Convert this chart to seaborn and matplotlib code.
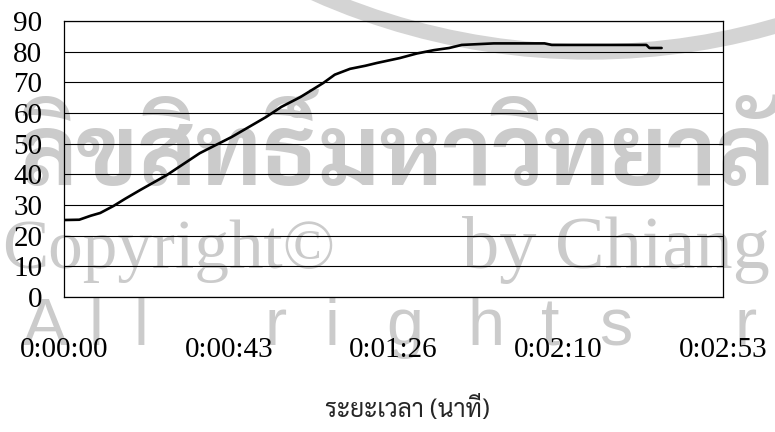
import matplotlib
matplotlib.use("Agg")
import matplotlib.pyplot as plt
import seaborn as sns
import pandas as pd
from matplotlib.patches import Arc

# temperature trace: elapsed seconds and reading
time_s = [0, 4, 7, 9.5, 13, 16, 20, 27, 35.6, 44, 53, 57, 62, 68, 71, 75,
          79, 82, 88, 92.5, 97, 101, 104.3, 112.7, 126, 127.9, 152.7, 153.5, 156.7]
temp = [25.1, 25.2, 26.5, 27.4, 29.7, 32.0, 34.9, 39.8, 46.9, 52.2, 58.7, 62.0,
        65.2, 69.8, 72.5, 74.4, 75.4, 76.3, 77.9, 79.4, 80.5, 81.2, 82.2, 82.7,
        82.7, 82.2, 82.2, 81.2, 81.2]

x_tick_s = [0, 43.2, 86.4, 129.6, 172.8]
x_tick_labels = ["0:00:00", "0:00:43", "0:01:26", "0:02:10", "0:02:53"]
y_ticks = [0, 10, 20, 30, 40, 50, 60, 70, 80, 90]
x_title = "ระยะเวลา (นาที)"

# background notice
wm_thai = "ลิขสิทธิ์มหาวิทยาลัยเชียงใหม่"
wm_copy = "Copyright©"
wm_by = "by Chiang Mai University"
wm_rights = "All rights reserved"

sns.set_style("white")
plt.rcParams["font.family"] = ["Liberation Serif", "DejaVu Serif"]

W, H = 775, 432
fig = plt.figure(figsize=(W / 100, H / 100), dpi=100)
fig.patch.set_facecolor("white")
renderer = fig.canvas.get_renderer()

# full-figure layer in pixel units for the notice
bg = fig.add_axes([0, 0, 1, 1], zorder=0)
bg.set_xlim(0, W)
bg.set_ylim(H, 0)
bg.axis("off")

GREY = "#cbcbcb"


def fitted_text(x, y, s, width_px, fit_part=None, **kw):
    """Place text whose (leading part) spans width_px pixels."""
    probe = bg.text(x, y, fit_part or s, fontsize=50, **kw)
    w = probe.get_window_extent(renderer).width
    probe.remove()
    return bg.text(x, y, s, fontsize=50 * width_px / w, **kw)


fitted_text(18, 185, wm_thai, 757, fit_part="ลิขสิทธิ์มหาวิทยาล",
            family=["Sarabun", "Noto Sans Thai Looped", "Noto Sans Thai"],
            weight=700, color=GREY, ha="left", va="baseline")
fitted_text(2, 268, wm_copy, 333,
            family=["Liberation Serif"],
            color=GREY, ha="left", va="baseline")
fitted_text(462, 268, wm_by, 308, fit_part="by Chiang",
            family=["Liberation Serif"],
            color=GREY, ha="left", va="baseline")
letter_x = [45, 96, 141, None, 276, 332, 405, 486, 550, 616, None,
            746, 810, 874, 938, 1002, 1066, 1130, 1194]
for ch, lx in zip(wm_rights, letter_x):
    if lx is not None and ch != " ":
        bg.text(lx, 345, ch, fontsize=48, family="Liberation Sans",
                color=GREY, ha="center", va="baseline")
bg.add_patch(Arc((590, -624), 1352, 1352, theta1=55, theta2=125,
                 color="#d4d4d4", linewidth=11))

# chart
ax = fig.add_axes([64 / W, 135 / H, 659 / W, 276 / H], zorder=1)
ax.set_facecolor("none")

df = pd.DataFrame({"t": time_s, "v": temp})
sns.lineplot(data=df, x="t", y="v", ax=ax, color="black", linewidth=1.9,
             zorder=3)

ax.set_xlim(0, 172.8)
ax.set_ylim(0, 90)
ax.set_xticks(x_tick_s)
ax.set_xticklabels(x_tick_labels)
ax.set_yticks(y_ticks)
ax.yaxis.grid(True, color="black", linewidth=0.8)
ax.xaxis.grid(False)
ax.set_xlabel("")
ax.set_ylabel("")
for s in ax.spines.values():
    s.set_visible(True)
    s.set_color("black")
    s.set_linewidth(0.9)
ax.tick_params(axis="x", direction="out", length=7.5, width=0.9,
               pad=21, labelsize=21, colors="black")
ax.tick_params(axis="y", direction="out", length=6.5, width=0.9,
               pad=9, labelsize=21, colors="black")

# axis title, sized to its printed width
t = fig.text(407 / W, 1 - 417 / H, x_title, ha="center", va="baseline",
             fontsize=20, family=["Sarabun", "Noto Sans Thai", "DejaVu Sans"])
tw = t.get_window_extent(renderer).width
t.set_fontsize(20 * 165 / tw)

fig.savefig("out.png", dpi=100)
